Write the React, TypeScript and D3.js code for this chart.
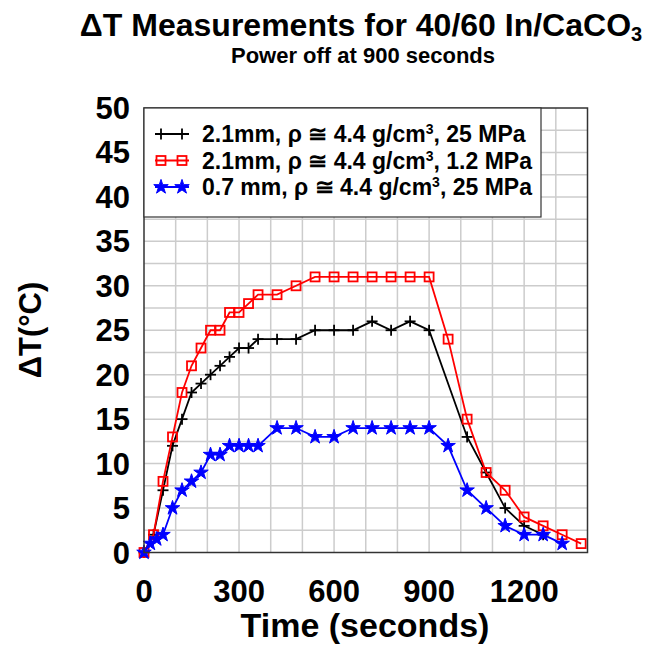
import React from "react";
import * as d3 from "d3";

// Time stamps (seconds) and ΔT (°C) for each run
const timesA = [0, 30, 60, 90, 120, 150, 180, 210, 240, 270, 300, 330, 360, 420, 480, 540, 600, 660, 720, 780, 840, 900, 1020, 1080, 1140, 1200, 1260];
const deltaA = [0, 2, 7, 12, 15, 18, 19, 20, 21, 22, 23, 23, 24, 24, 24, 25, 25, 25, 26, 25, 26, 25, 13, 9, 5, 3, 2];

const timesB = [0, 30, 60, 90, 120, 150, 180, 210, 240, 270, 300, 330, 360, 420, 480, 540, 600, 660, 720, 780, 840, 900, 960, 1020, 1080, 1140, 1200, 1260, 1320, 1380];
const deltaB = [0, 2, 8, 13, 18, 21, 23, 25, 25, 27, 27, 28, 29, 29, 30, 31, 31, 31, 31, 31, 31, 31, 24, 15, 9, 7, 4, 3, 2, 1];

const timesC = [0, 20, 40, 60, 90, 120, 150, 180, 210, 240, 270, 300, 330, 360, 420, 480, 540, 600, 660, 720, 780, 840, 900, 960, 1020, 1080, 1140, 1200, 1260, 1320];
const deltaC = [0, 1, 1.5, 2, 5, 7, 8, 9, 11, 11, 12, 12, 12, 12, 14, 14, 13, 13, 14, 14, 14, 14, 14, 12, 7, 5, 3, 2, 2, 1];

const xTicks = [0, 300, 600, 900, 1200];
const yTicks = [0, 5, 10, 15, 20, 25, 30, 35, 40, 45, 50];

const seriesNames = ["2.1mm, ρ ≅ 4.4 g/cm", "2.1mm, ρ ≅ 4.4 g/cm", "0.7 mm, ρ ≅ 4.4 g/cm"];
const seriesSuffix = [", 25 MPa", ", 1.2 MPa", ", 25 MPa"];

const W = 657;
const H = 645;
const M = { left: 144, right: 587.5, top: 108, bottom: 552.5 };
const FONT = "'Liberation Sans', Arial, sans-serif";

const x = d3.scaleLinear().domain([0, 1400]).range([M.left, M.right]);
const y = d3.scaleLinear().domain([0, 50]).range([M.bottom, M.top]);

type Kind = "plus" | "square" | "star";
const series: { t: number[]; v: number[]; color: string; kind: Kind }[] = [
  { t: timesA, v: deltaA, color: "#000000", kind: "plus" },
  { t: timesB, v: deltaB, color: "#ff0000", kind: "square" },
  { t: timesC, v: deltaC, color: "#0000ff", kind: "star" },
];

const starPath = d3.symbol().type(d3.symbolStar).size(65)() as string;

function Marker({ kind, color, cx, cy }: { kind: Kind; color: string; cx: number; cy: number }) {
  if (kind === "plus") {
    return (
      <g transform={`translate(${cx},${cy})`} stroke={color} strokeWidth={1.8}>
        <line x1={-5.5} x2={5.5} y1={0} y2={0} />
        <line x1={0} x2={0} y1={-5.5} y2={5.5} />
      </g>
    );
  }
  if (kind === "square") {
    return <rect x={cx - 4.5} y={cy - 4.5} width={9} height={9} fill="none" stroke={color} strokeWidth={1.8} />;
  }
  return <path d={starPath} transform={`translate(${cx},${cy})`} fill={color} stroke={color} strokeWidth={1} />;
}

export default function App() {
  const line = d3.line<[number, number]>().x((d) => x(d[0])).y((d) => y(d[1]));
  const xGrid = d3.range(100, 1400, 100);
  const yGrid = d3.range(2.5, 50, 2.5);

  return (
    <svg width={W} height={H} style={{ display: "block", position: "absolute", left: 0, top: 0 }} fontFamily={FONT} fontWeight="bold">
      <rect width={W} height={H} fill="#fff" />
      {/* Titles */}
      <text x={361} y={36} textAnchor="middle" fontSize={32}>
        ΔT Measurements for 40/60 In/CaCO<tspan fontSize={20} dy={5}>3</tspan>
      </text>
      <text x={363} y={63} textAnchor="middle" fontSize={22}>Power off at 900 seconds</text>

      {/* Grid */}
      <g stroke="#cccccc" strokeWidth={1.5}>
        {xGrid.map((g) => (
          <line key={"x" + g} x1={x(g)} x2={x(g)} y1={M.top} y2={M.bottom} />
        ))}
        {yGrid.map((g) => (
          <line key={"y" + g} x1={M.left} x2={M.right} y1={y(g)} y2={y(g)} />
        ))}
      </g>

      {/* Series */}
      {series.map((s, i) => (
        <g key={i}>
          <path d={line(s.t.map((t, j) => [t, s.v[j]] as [number, number])) as string} fill="none" stroke={s.color} strokeWidth={1.8} />
          {s.t.map((t, j) => (
            <Marker key={j} kind={s.kind} color={s.color} cx={x(t)} cy={y(s.v[j])} />
          ))}
        </g>
      ))}

      {/* Frame */}
      <rect x={M.left} y={M.top} width={M.right - M.left} height={M.bottom - M.top} fill="none" stroke="#333" strokeWidth={1.5} />

      {/* Legend */}
      <rect x={M.left} y={M.top} width={541 - M.left} height={217 - M.top} fill="#fff" stroke="#333" strokeWidth={1.2} />
      {series.map((s, i) => {
        const ly = 134 + i * 26.5;
        return (
          <g key={"lg" + i}>
            <line x1={155} x2={189} y1={ly} y2={ly} stroke={s.color} strokeWidth={1.8} />
            <Marker kind={s.kind} color={s.color} cx={161} cy={ly} />
            <Marker kind={s.kind} color={s.color} cx={182} cy={ly} />
            <text x={202} y={ly + 8} fontSize={23}>
              {seriesNames[i]}
              <tspan fontSize={14} dy={-8}>3</tspan>
              <tspan dy={8}>{seriesSuffix[i]}</tspan>
            </text>
          </g>
        );
      })}

      {/* Axes labels */}
      {yTicks.map((t) => (
        <text key={"yt" + t} x={130} y={y(t) + 11} textAnchor="end" fontSize={31}>
          {t}
        </text>
      ))}
      {xTicks.map((t) => (
        <text key={"xt" + t} x={x(t)} y={602} textAnchor="middle" fontSize={31}>
          {t}
        </text>
      ))}
      <text x={365} y={637} textAnchor="middle" fontSize={34}>Time (seconds)</text>
      <text transform="translate(41,330) rotate(-90)" textAnchor="middle" fontSize={31}>ΔT(°C)</text>
    </svg>
  );
}
